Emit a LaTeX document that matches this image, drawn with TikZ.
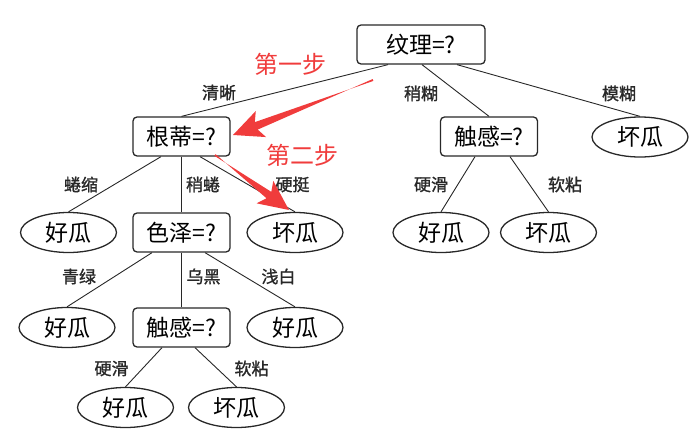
\documentclass[tikz,border=0pt]{standalone}
\usepackage{fontspec}
\newfontfamily\cjk{Noto Sans CJK SC}
\newfontfamily\cjkb[FakeBold=1.2]{Noto Sans CJK SC}
\usetikzlibrary{shapes.geometric,calc}
\definecolor{arrowred}{RGB}{240,60,60}
\definecolor{inkgray}{RGB}{40,40,40}
\tikzset{
  qbox/.style={draw=inkgray,line width=1.3pt,rounded corners=4pt,minimum width=97pt,minimum height=39pt,inner sep=0pt,font=\cjk\fontsize{23}{23}\selectfont},
  leaf/.style={draw=inkgray,ellipse,line width=1.3pt,minimum width=96pt,minimum height=40pt,inner sep=0pt,font=\cjk\fontsize{23}{23}\selectfont},
  elabel/.style={font=\cjkb\fontsize{17}{17}\selectfont,inner sep=0pt,text=inkgray},
  steptext/.style={font=\cjk\fontsize{24}{24}\selectfont,text=arrowred,inner sep=0pt},
  edge/.style={draw=inkgray,line width=0.9pt},
}
\begin{document}
\begin{tikzpicture}[x=1pt,y=-1pt]
\useasboundingbox (0,0) rectangle (699,444);
% decision nodes
\node[qbox,minimum width=128pt] (t1) at (421,44.5) {纹理=?};
\node[qbox] (g1) at (181.5,136.5) {根蒂=?};
\node[qbox] (c1) at (489,136.5) {触感=?};
\node[leaf] (b1) at (640,137) {坏瓜};
\node[leaf] (h1) at (68.5,232.5) {好瓜};
\node[qbox] (s1) at (181.5,232.5) {色泽=?};
\node[leaf] (b2) at (295,232.5) {坏瓜};
\node[leaf] (h2) at (441,232.5) {好瓜};
\node[leaf] (b3) at (548.5,232.5) {坏瓜};
\node[leaf] (h3) at (67,327.5) {好瓜};
\node[qbox] (c2) at (181.5,327.5) {触感=?};
\node[leaf] (h4) at (295,327.5) {好瓜};
\node[leaf] (h5) at (125.5,407.5) {好瓜};
\node[leaf] (b4) at (236.5,407.5) {坏瓜};
% edges
\draw[edge] ([xshift=-33pt]t1.south) -- (g1.north);
\draw[edge] ([xshift=1pt]t1.south) -- (c1.north);
\draw[edge] ([xshift=36pt]t1.south) -- (b1.north);
\draw[edge] ([xshift=-20.5pt]g1.south) -- (h1.north);
\draw[edge] (g1.south) -- (s1.north);
\draw[edge] ([xshift=18.5pt]g1.south) -- (b2.north);
\draw[edge] ([xshift=-14pt]c1.south) -- (h2.north);
\draw[edge] ([xshift=21pt]c1.south) -- (b3.north);
\draw[edge] ([xshift=-29.5pt]s1.south) -- (h3.north);
\draw[edge] (s1.south) -- (c2.north);
\draw[edge] ([xshift=23.5pt]s1.south) -- (h4.north);
\draw[edge] ([xshift=-19.5pt]c2.south) -- (h5.north);
\draw[edge] ([xshift=13.5pt]c2.south) -- (b4.north);
% edge labels
\node[elabel] (l1) at (219,92.5) {清晰};
\node[elabel] (l2) at (421,93.5) {稍糊};
\node[elabel] (l3) at (619,93.5) {模糊};
\node[elabel] (l4) at (81,184.5) {蜷缩};
\node[elabel] (l5) at (203,184.5) {稍蜷};
\node[elabel] (l6) at (292.5,184.5) {硬挺};
\node[elabel] (l7) at (431,184.5) {硬滑};
\node[elabel] (l8) at (565,184.5) {软粘};
\node[elabel] (l9) at (79,276.5) {青绿};
\node[elabel] (l10) at (203.5,276.5) {乌黑};
\node[elabel] (l11) at (278.5,276.5) {浅白};
\node[elabel] (l12) at (111.5,368.5) {硬滑};
\node[elabel] (l13) at (251.5,368.5) {软粘};
% step texts
\node[steptext] (st1) at (290,64) {第一步};
\node[steptext] (st2) at (302,155.5) {第二步};
% red arrows
\coordinate (a1s) at (373,80);
\coordinate (a1e) at (233,135);
\coordinate (a1b) at ($(a1e)!25pt!(a1s)$);
\coordinate (a1w) at ($(a1e)!30pt!(a1s)$);
\fill[arrowred] ($(a1s)!1pt!90:(a1e)$) -- ($(a1b)!4pt!-90:(a1e)$) -- ($(a1w)!14pt!-90:(a1e)$) -- (a1e)
  -- ($(a1w)!14pt!90:(a1e)$) -- ($(a1b)!4pt!90:(a1e)$) -- ($(a1s)!1pt!-90:(a1e)$) -- cycle;
\coordinate (a2s) at (215,155);
\coordinate (a2e) at (289,210);
\coordinate (a2b) at ($(a2e)!25pt!(a2s)$);
\coordinate (a2w) at ($(a2e)!30pt!(a2s)$);
\fill[arrowred] ($(a2s)!1pt!90:(a2e)$) -- ($(a2b)!4pt!-90:(a2e)$) -- ($(a2w)!14pt!-90:(a2e)$) -- (a2e)
  -- ($(a2w)!14pt!90:(a2e)$) -- ($(a2b)!4pt!90:(a2e)$) -- ($(a2s)!1pt!-90:(a2e)$) -- cycle;
\end{tikzpicture}
\end{document}
